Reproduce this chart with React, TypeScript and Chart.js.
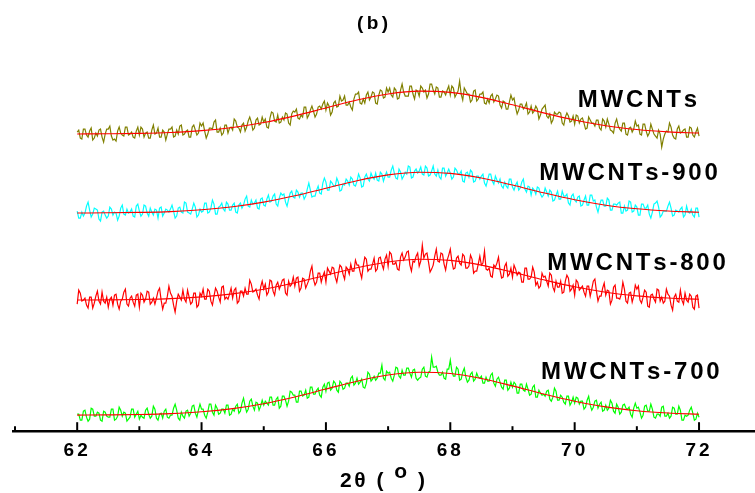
import React, { useEffect, useRef } from "react";
import { Chart, registerables } from "chart.js";

Chart.register(...registerables);

// Sampling grid of the measured patterns (2θ, degrees)
const X_START = 62;
const X_STEP = 0.025;

// Measured intensities (offset, arbitrary units), one value per grid step from 62 to 72
const MWCNTS_RAW = [
  299,301,293,292,302,302,296,294,300,303,291,293,298,295,301,302,294,289,297,302,
  302,305,295,291,292,290,300,304,298,296,295,304,304,296,297,299,294,293,300,304,
  296,304,302,294,298,299,293,293,301,306,297,298,303,294,294,301,299,291,297,302,
  302,304,294,295,301,297,305,306,296,297,300,301,294,294,304,306,301,296,298,308,
  305,308,300,293,297,303,303,302,309,311,299,299,303,296,298,306,306,298,303,304,
  301,312,310,304,303,299,306,308,300,304,310,314,309,301,303,311,313,306,307,314,
  309,312,304,303,313,319,318,310,309,316,308,309,314,311,318,317,308,306,317,320,
  319,322,313,312,316,314,324,324,313,316,321,325,320,314,317,324,325,322,327,330,
  321,328,325,316,319,328,330,324,325,335,330,331,335,326,326,329,324,321,332,337,
  337,339,328,327,332,328,336,339,331,334,339,338,328,327,336,341,340,333,334,343,
  339,343,336,334,343,341,332,333,341,347,339,335,335,335,345,345,337,332,341,340,
  335,345,343,339,341,333,337,347,347,341,337,344,343,334,334,340,339,336,341,345,
  336,345,343,334,337,340,350,337,331,343,340,337,337,329,331,340,341,330,332,337,
  337,339,328,327,332,328,335,337,329,332,336,335,326,323,330,329,322,322,329,336,
  331,333,324,317,321,327,327,322,324,328,317,319,325,318,320,325,322,312,316,322,
  324,326,315,313,317,308,311,319,317,317,319,318,308,306,314,318,315,309,310,315,
  307,316,315,308,312,313,308,302,303,314,311,308,308,305,311,311,303,301,312,310,
  304,312,307,301,300,298,308,312,305,302,300,308,308,297,296,303,304,299,302,310,
  305,306,297,296,307,307,300,295,298,307,302,297,295,293,301,297,284,292,297,300,
  299,308,304,296,293,292,302,305,298,299,301,302,294,294,304,303,296,294,299,303,
  295,
];
const MWCNTS900_RAW = [
  220,213,213,219,215,218,225,229,221,214,217,223,222,221,212,210,219,220,216,213,
  215,224,222,216,219,218,211,215,223,226,217,216,222,218,219,222,215,214,225,227,
  220,215,217,226,225,218,215,223,219,216,222,221,213,223,224,215,218,222,221,219,
  222,226,220,213,215,223,224,219,218,229,228,219,218,217,222,228,224,214,216,222,
  219,220,228,228,218,219,223,231,227,217,217,224,225,228,222,220,229,227,221,221,
  226,228,219,218,226,228,223,226,232,235,225,224,231,227,228,231,223,222,232,233,
  226,225,232,236,229,230,235,237,227,225,233,238,236,237,229,225,232,238,240,234,
  233,241,239,234,238,238,232,235,242,248,241,234,235,235,241,245,238,237,248,253,
  249,241,241,250,248,245,245,253,249,240,241,247,246,252,250,246,254,252,246,245,
  250,257,253,244,245,254,257,252,250,258,254,252,258,251,250,259,257,250,255,259,
  254,254,261,265,258,253,252,262,259,252,255,259,257,265,264,253,254,260,262,258,
  260,264,257,256,265,263,255,256,260,265,257,255,261,254,252,263,263,255,258,262,
  258,252,254,263,261,257,257,260,250,249,258,259,254,261,259,249,250,255,255,252,
  255,257,248,245,251,257,257,250,247,255,251,248,252,245,243,249,245,243,252,252,
  244,241,246,249,241,243,249,252,242,239,245,244,236,243,241,237,244,243,237,234,
  236,243,239,235,241,239,230,231,236,240,232,232,240,235,235,237,228,226,235,237,
  231,229,234,235,225,226,231,235,226,226,236,236,230,231,224,219,226,231,231,225,
  225,233,231,221,221,227,227,226,228,229,218,218,225,220,221,230,229,219,220,226,
  224,216,216,227,227,223,223,226,217,213,219,227,228,230,224,214,216,220,220,220,
  225,229,223,215,216,221,220,219,222,224,214,216,225,219,218,222,216,214,223,223,
  214,
];
const MWCNTS800_RAW = [
  127,141,138,130,131,133,126,123,134,134,123,128,135,140,130,127,139,130,128,134,
  124,132,134,126,136,137,127,122,130,132,139,142,127,125,133,135,129,125,136,137,
  124,138,136,129,132,140,139,127,129,133,127,133,140,143,131,122,128,128,135,145,
  138,135,126,119,130,137,134,131,141,132,129,141,134,127,129,138,138,124,126,138,
  135,142,132,132,142,140,130,126,135,143,140,134,129,144,145,132,134,132,137,143,
  133,141,143,128,130,140,140,135,143,137,137,151,147,139,140,142,136,132,144,150,
  142,147,136,139,151,150,140,136,146,149,142,146,151,152,138,136,150,145,147,154,
  145,153,154,140,143,153,152,143,147,151,160,165,152,146,149,158,158,149,155,159,
  149,163,160,157,164,163,154,149,158,166,164,157,152,164,162,157,167,160,160,171,
  166,166,159,153,165,174,172,160,162,162,167,173,160,162,173,174,167,162,172,176,
  165,179,177,167,167,169,162,161,174,178,171,174,179,180,166,160,170,169,175,178,
  165,170,186,173,177,178,169,159,162,166,175,182,170,169,178,177,167,161,171,176,
  182,170,162,163,173,175,168,166,177,175,163,163,165,176,172,158,160,160,167,175,
  166,168,180,162,161,163,155,154,166,164,168,174,161,153,154,165,168,155,157,163,
  154,166,162,156,159,158,149,149,163,163,152,152,154,164,159,146,149,143,145,158,
  154,155,150,145,158,156,144,140,150,144,144,150,138,139,150,156,153,140,142,146,
  136,151,149,141,143,145,139,135,145,145,135,142,150,152,140,130,135,135,143,148,
  136,141,140,127,131,144,146,133,133,132,137,149,142,130,128,138,139,129,135,146,
  142,145,131,128,134,141,139,125,124,136,137,132,129,142,141,130,134,128,130,142,
  137,135,126,121,134,137,130,129,141,131,127,138,131,129,137,135,124,122,135,136,
  123,
];
const MWCNTS700_RAW = [
  17,17,11,11,20,21,14,10,12,23,22,15,15,19,18,11,10,20,19,15,
  14,14,22,22,11,12,15,24,21,15,19,18,10,12,14,22,22,14,17,20,
  12,16,14,13,21,23,17,13,15,25,22,13,11,17,18,13,20,22,14,13,
  16,16,23,27,21,13,11,19,15,13,20,21,15,18,25,26,18,14,21,27,
  22,22,16,13,19,27,27,19,16,26,23,17,18,22,22,18,26,26,16,17,
  22,20,25,27,18,20,28,33,25,19,22,30,32,25,21,29,28,21,25,31,
  26,30,28,26,34,34,26,26,32,34,23,25,35,35,31,25,30,40,39,36,
  36,29,29,40,40,35,36,41,33,34,44,44,37,37,41,43,36,34,44,47,
  40,48,49,41,43,50,48,41,39,50,48,42,43,48,48,45,53,55,46,48,
  53,47,49,52,44,43,48,59,57,50,52,55,51,53,58,58,66,53,51,60,
  58,59,53,50,56,64,63,55,53,61,56,56,63,63,58,54,61,62,53,51,
  53,54,62,64,55,54,59,60,74,64,64,65,59,56,56,59,53,52,62,62,
  71,60,55,55,64,62,51,52,59,63,54,49,51,57,59,50,52,58,54,53,
  55,48,48,54,50,50,56,58,48,45,52,54,49,44,42,51,51,41,43,49,
  44,49,47,38,38,47,47,41,40,47,42,36,37,44,46,34,34,41,38,36,
  37,35,40,41,32,30,34,43,40,31,31,36,34,29,27,35,35,26,29,34,
  28,34,33,27,30,30,22,24,31,35,26,21,24,30,31,23,27,29,20,21,
  26,21,23,31,28,20,18,27,24,17,19,26,27,23,22,24,17,14,23,28,
  23,24,19,13,16,25,26,20,20,27,22,14,13,17,17,15,24,25,15,15,
  18,13,15,24,23,17,17,25,21,11,11,16,15,16,21,24,18,11,12,18,
  14,
];

// Fitted (smooth) curves
const FIT_X = [62, 62.5, 63, 63.5, 64, 64.5, 65, 65.5, 66, 66.5, 67, 67.5, 68, 68.5, 69, 69.5, 70, 70.5, 71, 71.5, 72];
const FIT_MWCNTS = [297.1, 297.3, 297.7, 298.6, 300.4, 303.6, 308.5, 315.2, 323.1, 331.0, 337.1, 339.9, 338.7, 333.7, 326.3, 318.2, 311.0, 305.3, 301.5, 299.2, 298.0];
const FIT_900 = [218.1, 218.3, 218.7, 219.5, 221.3, 224.3, 229.0, 235.3, 242.9, 250.4, 256.2, 258.9, 257.7, 253.0, 246.0, 238.3, 231.3, 225.9, 222.3, 220.1, 218.9];
const FIT_800 = [131.1, 131.3, 131.7, 132.5, 134.3, 137.3, 141.9, 148.3, 155.9, 163.4, 169.2, 171.9, 170.7, 166.0, 159.0, 151.3, 144.3, 138.9, 135.3, 133.1, 131.9];
const FIT_700 = [16.1, 16.3, 16.7, 17.6, 19.4, 22.6, 27.5, 34.2, 42.1, 50.0, 56.1, 58.9, 57.7, 52.7, 45.3, 37.2, 30.0, 24.3, 20.5, 18.2, 17.0];

// Texts
const SERIES_NAMES = ["MWCNTs", "MWCNTs-900", "MWCNTs-800", "MWCNTs-700"];
const CHART_TITLE = "(b)";
const X_TITLE_MAIN = ["2", "θ", " ", "(", " "];
const X_TITLE_SUP = "o";
const X_TITLE_END = [" ", ")"];

// Label anchors (data units)
const LABEL_X = [70.05, 69.43, 69.56, 69.46];
const LABEL_Y = [324.5, 251, 161, 52];

const COLORS = ["#808000", "#00FFFF", "#FF0000", "#00FF00"];
const FIT_COLOR = "#FF0000";
const FONT = "'Liberation Sans', Arial, Helvetica, sans-serif";

function toPoints(arr: number[]) {
  return arr.map((y, i) => ({ x: +(X_START + i * X_STEP).toFixed(3), y }));
}
function fitPoints(arr: number[]) {
  return arr.map((y, i) => ({ x: FIT_X[i], y }));
}

type Glyph = { ch: string; dy: number };

function drawSpaced(ctx: CanvasRenderingContext2D, glyphs: Glyph[], x: number, y: number, spacing: number, align: "left" | "center") {
  const widths = glyphs.map((g) => ctx.measureText(g.ch).width);
  const total = widths.reduce((a, b) => a + b, 0) + spacing * (glyphs.length - 1);
  let cx = align === "center" ? x - total / 2 : x;
  ctx.textAlign = "left";
  ctx.textBaseline = "alphabetic";
  glyphs.forEach((g, i) => {
    ctx.fillText(g.ch, cx, y - g.dy);
    cx += widths[i] + spacing;
  });
}
const plain = (s: string): Glyph[] => s.split("").map((ch) => ({ ch, dy: 0 }));

const decorPlugin = {
  id: "decor",
  beforeDraw(chart: any) {
    try { chart.ctx.letterSpacing = "3px"; } catch (e) {}
  },
  beforeDatasetsDraw(chart: any) {
    try { chart.ctx.letterSpacing = "0px"; } catch (e) {}
  },
  afterDraw(chart: any) {
    const ctx: CanvasRenderingContext2D = chart.ctx;
    const xs = chart.scales.x;
    const ys = chart.scales.y;
    const bottom = chart.chartArea.bottom;
    ctx.save();
    try { (ctx as any).letterSpacing = "0px"; } catch (e) {}
    ctx.strokeStyle = "#000";
    // axis line
    ctx.lineWidth = 2.5;
    ctx.beginPath();
    ctx.moveTo(xs.left - 3, bottom);
    ctx.lineTo(chart.width, bottom);
    ctx.stroke();
    // inward ticks
    ctx.lineWidth = 2;
    xs.ticks.forEach((t: any) => {
      const px = xs.getPixelForValue(t.value);
      const len = t.value % 2 === 0 ? 9 : 5;
      ctx.beginPath();
      ctx.moveTo(px, bottom);
      ctx.lineTo(px, bottom - len);
      ctx.stroke();
    });
    ctx.fillStyle = "#000";
    // series labels
    ctx.font = `bold 24px ${FONT}`;
    SERIES_NAMES.forEach((name, i) => {
      drawSpaced(ctx, plain(name), xs.getPixelForValue(LABEL_X[i]), ys.getPixelForValue(LABEL_Y[i]), 2.8, "left");
    });
    // chart title
    ctx.font = `bold 19px ${FONT}`;
    drawSpaced(ctx, plain(CHART_TITLE), xs.getPixelForValue(66.75), 29, 3.5, "center");
    // axis title
    ctx.font = `bold 21px ${FONT}`;
    const glyphs: Glyph[] = [
      ...X_TITLE_MAIN.map((ch) => ({ ch, dy: 0 })),
      { ch: X_TITLE_SUP, dy: 9 },
      ...X_TITLE_END.map((ch) => ({ ch, dy: 0 })),
    ];
    drawSpaced(ctx, glyphs, xs.getPixelForValue(66.91), 487, 2.5, "center");
    ctx.restore();
  },
};

export default function App() {
  const ref = useRef<HTMLCanvasElement | null>(null);
  useEffect(() => {
    if (!ref.current) return;
    const raws = [MWCNTS_RAW, MWCNTS900_RAW, MWCNTS800_RAW, MWCNTS700_RAW];
    const fits = [FIT_MWCNTS, FIT_900, FIT_800, FIT_700];
    const datasets: any[] = [];
    fits.forEach((f, i) => {
      datasets.push({
        label: SERIES_NAMES[i] + " fit",
        data: fitPoints(f),
        borderColor: FIT_COLOR,
        borderWidth: 1.1,
        pointRadius: 0,
        cubicInterpolationMode: "monotone",
        fill: false,
        order: 0,
      });
    });
    raws.forEach((r, i) => {
      datasets.push({
        label: SERIES_NAMES[i],
        data: toPoints(r),
        borderColor: COLORS[i],
        borderWidth: 1.2,
        pointRadius: 0,
        tension: 0,
        fill: false,
        order: 1,
      });
    });
    const chart = new Chart(ref.current, {
      type: "line",
      data: { datasets },
      options: {
        responsive: false,
        animation: false,
        devicePixelRatio: 1,
        layout: { padding: { left: 15, right: 0, top: 0, bottom: 23 } },
        plugins: { legend: { display: false }, tooltip: { enabled: false }, title: { display: false } },
        scales: {
          x: {
            type: "linear",
            min: 61,
            max: 72.9,
            grid: { display: false, drawTicks: false },
            border: { display: false },
            ticks: {
              stepSize: 1,
              includeBounds: false,
              autoSkip: false,
              maxRotation: 0,
              minRotation: 0,
              padding: 8,
              color: "#000",
              font: { family: FONT, size: 19, weight: "bold" },
              callback: (v: any) => (Number(v) % 2 === 0 ? String(v) : ""),
            },
          },
          y: { type: "linear", display: false, min: 0, max: 431 },
        },
      },
      plugins: [decorPlugin],
    } as any);
    return () => chart.destroy();
  }, []);
  return (
    <div style={{ position: "fixed", left: 0, top: 0, width: 755, height: 493, background: "#fff" }}>
      <canvas ref={ref} width={755} height={493} style={{ display: "block", width: 755, height: 493 }} />
    </div>
  );
}
